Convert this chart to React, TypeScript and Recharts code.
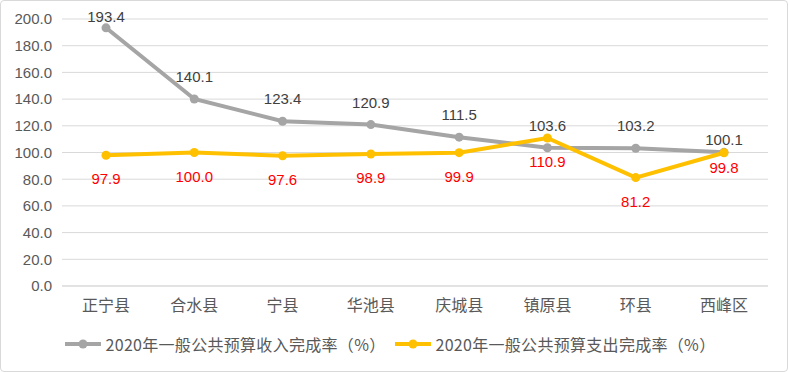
import { CartesianGrid, Legend, Line, LineChart, XAxis, YAxis } from 'recharts'

const CATEGORIES = ['正宁县', '合水县', '宁县', '华池县', '庆城县', '镇原县', '环县', '西峰区']
const REVENUE_RATE = [193.4, 140.1, 123.4, 120.9, 111.5, 103.6, 103.2, 100.1]
const SPENDING_RATE = [97.9, 100.0, 97.6, 98.9, 99.9, 110.9, 81.2, 99.8]
const Y_TICKS = [0, 20, 40, 60, 80, 100, 120, 140, 160, 180, 200]
const SERIES = [
  { key: 'revenue', label: '2020年一般公共预算收入完成率（%）', color: '#A5A5A5' },
  { key: 'spending', label: '2020年一般公共预算支出完成率（%）', color: '#FFC000' },
]

const data = CATEGORIES.map((name, i) => ({
  name,
  revenue: REVENUE_RATE[i],
  spending: SPENDING_RATE[i],
}))

const FONT = "'Liberation Sans', 'Noto Sans CJK SC', sans-serif"
const CJK_FONT = "'Noto Sans CJK SC', sans-serif"

// label gaps; first/last points sit closer to their marker like in the source
const gapAbove = (i: number) => (i === 0 ? 11.5 : i === CATEGORIES.length - 1 ? 13 : 22.5)
const gapBelow = (i: number) => (i === CATEGORIES.length - 1 ? 15 : 23.5)

function makeLabel(where: 'above' | 'below', fill: string) {
  return (p: any) => {
    const gap = where === 'above' ? -gapAbove(p.index) : gapBelow(p.index)
    return (
      <text
        key={`${where}-${p.index}`}
        x={p.x}
        y={p.y + gap}
        textAnchor="middle"
        dominantBaseline="central"
        fontSize={15}
        fontFamily={FONT}
        fill={fill}
      >
        {Number(p.value).toFixed(1)}
      </text>
    )
  }
}

function LegendContent() {
  return (
    <div
      style={{
        display: 'flex',
        justifyContent: 'center',
        alignItems: 'center',
        height: 56,
        fontFamily: CJK_FONT,
        fontSize: 16,
        letterSpacing: 0.3,
        color: '#595959',
        paddingRight: 8,
      }}
    >
      {SERIES.map((s, i) => (
        <div key={s.key} style={{ display: 'flex', alignItems: 'center', marginLeft: i ? 9 : 0 }}>
          <svg width={36} height={12} style={{ marginRight: 5 }}>
            <line x1={0} y1={6} x2={36} y2={6} stroke={s.color} strokeWidth={4} />
            <circle cx={18} cy={6} r={4.5} fill={s.color} />
          </svg>
          <span>{s.label}</span>
        </div>
      ))}
    </div>
  )
}

export default function App() {
  return (
    <div style={{ position: 'absolute', left: 0, top: 0, width: 788, height: 372, background: '#fff' }}>
      <LineChart width={788} height={372} data={data} margin={{ top: 19, right: 20, left: 0, bottom: 0 }}>
        <CartesianGrid vertical={false} stroke="#D9D9D9" />
        <XAxis
          dataKey="name"
          interval={0}
          height={30}
          padding={{ left: 44, right: 44 }}
          tickLine={false}
          tickSize={6}
          tickMargin={8}
          axisLine={{ stroke: '#D9D9D9' }}
          tick={{ fontSize: 16, fill: '#595959', fontFamily: CJK_FONT }}
        />
        <YAxis
          width={62}
          domain={[0, 200]}
          ticks={Y_TICKS}
          tickLine={false}
          axisLine={false}
          tickSize={4}
          tickMargin={6}
          tickFormatter={(v: number) => v.toFixed(1)}
          tick={{ fontSize: 15, fill: '#595959', fontFamily: FONT }}
        />
        <Legend
          verticalAlign="bottom"
          height={56}
          width={788}
          wrapperStyle={{ left: 0 }}
          content={<LegendContent />}
        />
        <Line
          dataKey="revenue"
          name={SERIES[0].label}
          stroke={SERIES[0].color}
          strokeWidth={4}
          dot={{ r: 4.5, fill: SERIES[0].color, stroke: SERIES[0].color, strokeWidth: 0 }}
          label={makeLabel('above', '#404040')}
          isAnimationActive={false}
        />
        <Line
          dataKey="spending"
          name={SERIES[1].label}
          stroke={SERIES[1].color}
          strokeWidth={4}
          dot={{ r: 4.5, fill: SERIES[1].color, stroke: SERIES[1].color, strokeWidth: 0 }}
          label={makeLabel('below', '#FF0000')}
          isAnimationActive={false}
        />
      </LineChart>
      <div
        style={{
          position: 'absolute',
          inset: 0,
          border: '1px solid #D9D9D9',
          borderRadius: 4,
          pointerEvents: 'none',
        }}
      />
    </div>
  )
}
